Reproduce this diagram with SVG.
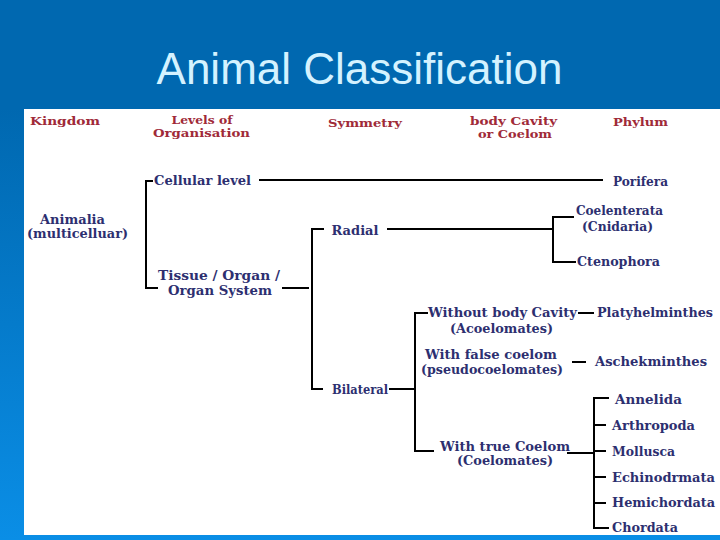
<svg xmlns="http://www.w3.org/2000/svg" width="720" height="540" viewBox="0 0 720 540">
  <defs>
    <linearGradient id="bg" x1="0" y1="0" x2="0" y2="1">
      <stop offset="0" stop-color="#0064aa"/>
      <stop offset="0.2" stop-color="#0068b0"/>
      <stop offset="1" stop-color="#0a8ee6"/>
    </linearGradient>
    <style>
      .title { font-family: "Liberation Sans", Arial, sans-serif; font-size: 44px; fill: #d4f2ff; text-anchor: middle; }
      .hd { font-family: "DejaVu Serif", serif; font-weight: bold; font-size: 11px; fill: #a02a38; text-anchor: middle; }
      .lb { font-family: "DejaVu Serif", serif; font-weight: bold; font-size: 12px; fill: #2d2f70; text-anchor: middle; }
      .ln { stroke: #000; stroke-width: 2; fill: none; stroke-linecap: square; }
    </style>
  </defs>
  <rect x="0" y="0" width="720" height="540" fill="url(#bg)"/>
  <rect x="0" y="0" width="720" height="109" fill="#0068b0"/>
  <text class="title" x="359.5" y="84">Animal Classification</text>
  <rect x="24" y="109" width="696" height="426" fill="#ffffff"/>

  <g id="headers">
    <text class="hd" x="65" y="125" textLength="70" lengthAdjust="spacingAndGlyphs">Kingdom</text>
    <text class="hd" x="202" y="124" textLength="61" lengthAdjust="spacingAndGlyphs">Levels of</text>
    <text class="hd" x="201.5" y="137" textLength="97" lengthAdjust="spacingAndGlyphs">Organisation</text>
    <text class="hd" x="365" y="127" textLength="74" lengthAdjust="spacingAndGlyphs">Symmetry</text>
    <text class="hd" x="513.5" y="125" textLength="87" lengthAdjust="spacingAndGlyphs">body Cavity</text>
    <text class="hd" x="515" y="138" textLength="74" lengthAdjust="spacingAndGlyphs">or Coelom</text>
    <text class="hd" x="640.5" y="126" textLength="55" lengthAdjust="spacingAndGlyphs">Phylum</text>
  </g>

  <g id="connectors">
    <path class="ln" d="M152,181 H146 V288 H157"/>
    <path class="ln" d="M260,180 H602"/>
    <path class="ln" d="M283,288 H308"/>
    <path class="ln" d="M323,229 H312 V389 H322"/>
    <path class="ln" d="M388,229 H553"/>
    <path class="ln" d="M573,217 H553 V262 H575"/>
    <path class="ln" d="M390,389 H415"/>
    <path class="ln" d="M427,313 H415 V451 H433"/>
    <path class="ln" d="M579,313 H593"/>
    <path class="ln" d="M573,362 H585"/>
    <path class="ln" d="M568,453 H594"/>
    <path class="ln" d="M608,398 H594 V528 H608"/>
    <path class="ln" d="M594,425 H605 M594,451 H605 M594,477 H605 M594,503 H605"/>
  </g>

  <g id="animalia"><text class="lb" x="72.5" y="224" textLength="65" lengthAdjust="spacingAndGlyphs">Animalia</text><text class="lb" x="77.5" y="238" textLength="101" lengthAdjust="spacingAndGlyphs">(multicelluar)</text></g>
  <g id="cellular"><text class="lb" x="202.5" y="185" textLength="97" lengthAdjust="spacingAndGlyphs">Cellular level</text></g>
  <g id="tissue"><text class="lb" x="219" y="280" textLength="122" lengthAdjust="spacingAndGlyphs">Tissue / Organ /</text><text class="lb" x="220" y="295" textLength="104" lengthAdjust="spacingAndGlyphs">Organ System</text></g>
  <g id="porifera"><text class="lb" x="640.5" y="186" textLength="55" lengthAdjust="spacingAndGlyphs">Porifera</text></g>
  <g id="radial"><text class="lb" x="355" y="235" textLength="47" lengthAdjust="spacingAndGlyphs">Radial</text></g>
  <g id="coelenterata"><text class="lb" x="619.5" y="215" textLength="87" lengthAdjust="spacingAndGlyphs">Coelenterata</text><text class="lb" x="617.5" y="231" textLength="71" lengthAdjust="spacingAndGlyphs">(Cnidaria)</text></g>
  <g id="ctenophora"><text class="lb" x="618.5" y="266" textLength="83" lengthAdjust="spacingAndGlyphs">Ctenophora</text></g>
  <g id="bilateral"><text class="lb" x="360" y="394" textLength="56" lengthAdjust="spacingAndGlyphs">Bilateral</text></g>
  <g id="acoelomates"><text class="lb" x="502.5" y="317" textLength="149" lengthAdjust="spacingAndGlyphs">Without body Cavity</text><text class="lb" x="501.5" y="333" textLength="103" lengthAdjust="spacingAndGlyphs">(Acoelomates)</text></g>
  <g id="platyhelminthes"><text class="lb" x="655" y="317" textLength="116" lengthAdjust="spacingAndGlyphs">Platyhelminthes</text></g>
  <g id="pseudocoelomates"><text class="lb" x="491" y="359" textLength="132" lengthAdjust="spacingAndGlyphs">With false coelom</text><text class="lb" x="492" y="374" textLength="142" lengthAdjust="spacingAndGlyphs">(pseudocoelomates)</text></g>
  <g id="aschelminthes"><text class="lb" x="651" y="366" textLength="112" lengthAdjust="spacingAndGlyphs">Aschekminthes</text></g>
  <g id="coelomates"><text class="lb" x="505" y="451" textLength="130" lengthAdjust="spacingAndGlyphs">With true Coelom</text><text class="lb" x="505" y="465" textLength="96" lengthAdjust="spacingAndGlyphs">(Coelomates)</text></g>
  <g id="annelida"><text class="lb" x="648.5" y="404" textLength="67" lengthAdjust="spacingAndGlyphs">Annelida</text></g>
  <g id="arthropoda"><text class="lb" x="653.5" y="430" textLength="83" lengthAdjust="spacingAndGlyphs">Arthropoda</text></g>
  <g id="mollusca"><text class="lb" x="643.5" y="456" textLength="63" lengthAdjust="spacingAndGlyphs">Mollusca</text></g>
  <g id="echinodermata"><text class="lb" x="663.5" y="482" textLength="103" lengthAdjust="spacingAndGlyphs">Echinodrmata</text></g>
  <g id="hemichordata"><text class="lb" x="663.5" y="507" textLength="103" lengthAdjust="spacingAndGlyphs">Hemichordata</text></g>
  <g id="chordata"><text class="lb" x="645" y="532" textLength="66" lengthAdjust="spacingAndGlyphs">Chordata</text></g>
</svg>
